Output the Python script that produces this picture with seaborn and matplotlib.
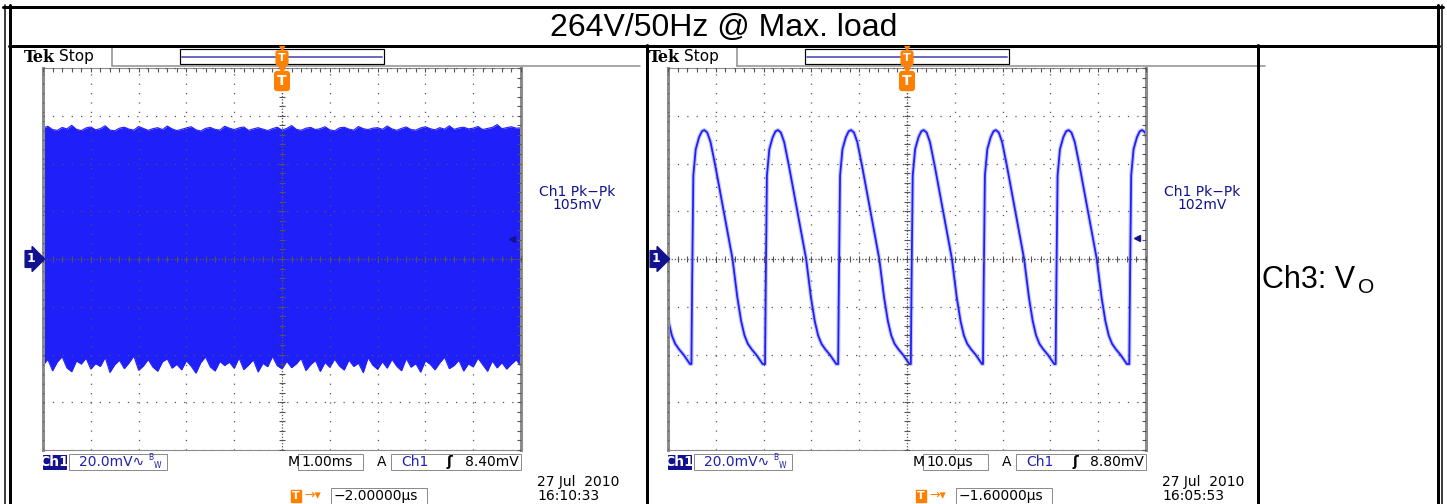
import numpy as np
import matplotlib
matplotlib.use("Agg")
import matplotlib.pyplot as plt
from matplotlib.lines import Line2D
from matplotlib.patches import Rectangle
from matplotlib.ticker import MultipleLocator
import seaborn as sns

W, H = 1447, 504

title = "264V/50Hz @ Max. load"
side_label = "Ch3: V"
side_sub = "O"

# left capture: 20 mV/div, 1 ms/div -> ripple band envelope read every 0.1 ms (mV)
left_t = np.round(np.arange(0, 10.01, 0.1), 2)
left_top = [54.8, 55.6, 54.2, 53.9, 55.1, 54.5, 56.0, 54.3, 53.8, 54.9,
            55.3, 54.1, 54.6, 55.8, 54.0, 53.7, 54.8, 55.2, 54.4, 54.0,
            55.5, 54.7, 53.9, 54.6, 55.0, 54.2, 55.7, 54.5, 53.8, 54.3,
            54.9, 55.4, 54.1, 53.6, 54.7, 55.1, 54.3, 54.0, 55.6, 54.8,
            54.2, 54.9, 55.3, 53.9, 54.5, 55.0, 54.4, 53.8, 54.6, 55.2,
            54.0, 54.7, 55.9, 54.3, 53.9, 54.8, 55.1, 54.2, 54.6, 55.4,
            54.1, 53.7, 54.9, 55.2, 54.4, 54.0, 55.5, 54.6, 54.2, 54.8,
            55.0, 54.3, 55.7, 54.5, 53.9, 54.7, 55.3, 54.2, 54.0, 54.9,
            55.4, 54.6, 54.1, 55.0, 54.4, 55.8, 54.3, 54.9, 55.2, 54.5,
            54.8, 55.5, 54.2, 54.7, 55.1, 56.3, 54.6, 55.0, 55.4, 54.8,
            54.9]
left_bot = [-44.5, -42.0, -46.8, -43.1, -40.9, -45.6, -47.2, -42.7, -44.0, -41.5,
            -46.1, -43.8, -45.0, -41.2, -47.5, -44.3, -42.4, -45.9, -43.5, -40.6,
            -46.6, -44.8, -42.1, -45.3, -47.0, -43.0, -41.8, -45.7, -44.1, -46.4,
            -42.6, -44.9, -47.8, -43.4, -41.0, -45.2, -46.9, -42.9, -44.6, -43.2,
            -45.8, -41.4, -46.3, -44.4, -42.2, -47.3, -43.7, -45.1, -40.8, -44.7,
            -46.0, -42.8, -45.5, -43.9, -41.6, -46.7, -44.2, -42.5, -47.1, -43.3,
            -45.4, -41.9, -44.8, -46.5, -42.3, -45.0, -43.6, -47.6, -41.3, -44.5,
            -46.2, -43.0, -45.7, -42.0, -44.9, -46.8, -41.7, -45.3, -43.8, -47.4,
            -42.6, -44.1, -46.4, -43.5, -41.1, -45.9, -44.6, -42.4, -46.9, -43.9,
            -45.2, -41.5, -44.3, -47.0, -42.7, -45.6, -43.4, -46.1, -44.0, -42.2,
            -45.0]

# right capture: 20 mV/div, 10 us/div -> rising edges (us) and one cycle's shape
right_rises = [-10.3, 4.9, 20.3, 35.6, 50.8, 65.9, 81.1, 96.5]
cycle_dt = [0.0, 0.15, 0.4, 0.9, 1.6, 2.2, 2.7, 3.3, 4.0, 5.0, 6.3, 7.5, 8.6,
            9.6, 10.4, 11.1, 11.8, 12.6, 13.6, 14.9]
cycle_mv = [-44, -10, 35, 46, 51, 53.5, 54, 53, 49, 39, 25, 12, 0,
            -16, -26, -32, -35.5, -37.8, -40.2, -44]

pkpk = ["105mV", "102mV"]
timebase = ["1.00ms", "10.0µs"]
trig_mv = [8.40, 8.80]
delay = ["−2.00000µs", "−1.60000µs"]
dates = [("27 Jul  2010", "16:10:33"), ("27 Jul  2010", "16:05:53")]

BLUE = "#1f1ffa"
NAVY = "#12128e"
ORANGE = "#ff8000"
GRID = "#555555"
FRAME = "#8c8c8c"

sns.set_style("white")
plt.rcParams["font.family"] = ["DejaVu Sans"]
plt.rcParams["text.color"] = "black"

fig = plt.figure(figsize=(W / 100, H / 100), dpi=100)


def fx(x):
    return x / W


def fy(y):
    return 1 - y / H


def px_text(x, y, s, **kw):
    kw.setdefault("va", "center")
    kw.setdefault("ha", "left")
    fig.text(fx(x), fy(y), s, **kw)


def px_line(xs, ys, lw_px, color="black", **kw):
    fig.add_artist(Line2D([fx(x) for x in xs], [fy(y) for y in ys],
                          lw=lw_px * 0.72, color=color,
                          transform=fig.transFigure, **kw))


def px_rect(x0, y0, x1, y1, fc="white", ec=FRAME, lw_px=1.0):
    fig.add_artist(Rectangle((fx(x0), fy(y1)), (x1 - x0) / W, (y1 - y0) / H,
                             transform=fig.transFigure, fc=fc, ec=ec,
                             lw=lw_px * 0.72))


def trig_marker(x, y, fs):
    px_text(x, y - fs - 1, "▼", ha="center", color=ORANGE, fontsize=fs - 2)
    px_text(x, y, "T", ha="center", color="white", fontsize=fs, weight="bold",
            bbox=dict(boxstyle="round,pad=0.18", fc=ORANGE, ec=ORANGE))


GRID_TOP, GRID_BOT, GRID_W = 68, 450, 478


def scope_axes(gx, xmax, ymax, trig):
    ax = fig.add_axes([fx(gx), fy(GRID_BOT), GRID_W / W, (GRID_BOT - GRID_TOP) / H])
    ax.set_xlim(0, xmax)
    ax.set_ylim(-ymax, ymax)
    ax.xaxis.set_major_locator(MultipleLocator(xmax / 10))
    ax.xaxis.set_minor_locator(MultipleLocator(xmax / 50))
    ax.yaxis.set_major_locator(MultipleLocator(ymax / 4))
    ax.yaxis.set_minor_locator(MultipleLocator(ymax / 20))
    ax.tick_params(which="both", direction="in", top=True, right=True,
                   labelbottom=False, labelleft=False, color=GRID,
                   length=3, width=0.8)
    ax.set_axisbelow(False)
    ax.grid(True, which="major", color=GRID, ls=(0, (1, 6.5)), lw=0.9)
    ax.axhline(0, color=GRID, lw=0.9, ls=(0, (1, 1.5)), zorder=3)
    ax.axvline(xmax / 2, color=GRID, lw=0.9, ls=(0, (1, 1.5)), zorder=3)
    mx = np.arange(0, xmax + 1e-9, xmax / 50)
    my = np.arange(-ymax, ymax + 1e-9, ymax / 20)
    ax.plot(mx, np.zeros_like(mx), ls="none", marker="|", ms=5, mew=0.8,
            color=GRID, zorder=3)
    ax.plot(np.full_like(my, xmax / 2), my, ls="none", marker="_", ms=5,
            mew=0.8, color=GRID, zorder=3)
    for side in ["left", "right"]:
        ax.spines[side].set_color(FRAME)
        ax.spines[side].set_linewidth(2.2)
    for side in ["top", "bottom"]:
        ax.spines[side].set_color(FRAME)
        ax.spines[side].set_linewidth(0.8)
    ax.plot([xmax * 0.982], [trig], marker="<", ms=5, color=NAVY, zorder=4)
    return ax


def scope_decor(i, gx):
    d = gx - 43
    # header
    px_text(24 + d, 57, "Tek", family="DejaVu Serif", weight="bold", fontsize=11.5)
    px_text(59 + d, 56, "Stop", fontsize=11)
    px_line([112 + d, 112 + d], [48, 66], 1.5, FRAME)
    px_line([112 + d, 640 + d], [65.5, 65.5], 1.5, FRAME)
    px_rect(180 + d, 49, 384 + d, 64, ec="black", lw_px=1.2)
    px_line([182 + d, 382 + d], [57, 57], 2, "#6c6cc0")
    trig_marker(gx + GRID_W / 2, 58, 8)
    trig_marker(gx + GRID_W / 2, 81, 10)
    # channel marker
    px_text(27 + d, 259, "1", color="white", fontsize=9, weight="bold",
            bbox=dict(boxstyle="rarrow,pad=0.15", fc=NAVY, ec=NAVY))
    # measurement readout
    px_text(gx + GRID_W + 56, 192, "Ch1 Pk−Pk", ha="center", color=NAVY, fontsize=10)
    px_text(gx + GRID_W + 56, 205, pkpk[i], ha="center", color=NAVY, fontsize=10)
    # status bar
    px_rect(43 + d, 455, 66 + d, 469, fc=NAVY, ec=NAVY)
    px_text(54.5 + d, 462, "Ch1", ha="center", color="white", fontsize=10, weight="bold")
    px_rect(69 + d, 454, 167 + d, 470)
    px_text(79 + d, 462, "20.0mV∿", color="#2020b0", fontsize=10)
    px_text(148 + d, 458, "B", color="#2020b0", fontsize=5.5)
    px_text(154 + d, 465, "W", color="#2020b0", fontsize=5.5)
    px_text(288 + d, 462, "M", fontsize=10)
    px_rect(298 + d, 454, 363 + d, 470)
    px_text(301 + d, 462, timebase[i], fontsize=10)
    px_text(377 + d, 462, "A", fontsize=10)
    px_rect(391 + d, 454, 521 + d, 470)
    px_text(401 + d, 462, "Ch1", color="#2020b0", fontsize=10)
    px_text(447 + d, 462, "ʃ", fontsize=10, weight="bold")
    px_text(465 + d, 462, f"{trig_mv[i]:.2f}mV", fontsize=10)
    px_text(537 + d, 482, dates[i][0], fontsize=10)
    px_text(537 + d, 496, dates[i][1], fontsize=10)
    px_text(296 + d, 496, "T", ha="center", color="white", fontsize=8, weight="bold",
            bbox=dict(boxstyle="square,pad=0.12", fc=ORANGE, ec=ORANGE))
    px_text(304 + d, 496, "→▾", color=ORANGE, fontsize=9)
    px_rect(331 + d, 488, 427 + d, 505)
    px_text(334 + d, 496, delay[i], fontsize=10)


# left scope: wideband ripple
ax1 = scope_axes(43, 10.0, 80, trig_mv[0])
ax1.fill_between(left_t, left_bot, left_top, color=BLUE, lw=0, zorder=1)
sns.lineplot(x=left_t, y=left_top, ax=ax1, color=BLUE, lw=0.8, estimator=None, zorder=1)
sns.lineplot(x=left_t, y=left_bot, ax=ax1, color=BLUE, lw=0.8, estimator=None, zorder=1)
scope_decor(0, 43)

# right scope: zoomed ripple waveform
wave_t, wave_v = [], []
for r in right_rises:
    wave_t += [r + dt for dt in cycle_dt]
    wave_v += cycle_mv
ax2 = scope_axes(668, 100.0, 80, trig_mv[1])
sns.lineplot(x=wave_t, y=wave_v, ax=ax2, color=BLUE, lw=3, alpha=0.25,
             estimator=None, sort=False, zorder=2)
sns.lineplot(x=wave_t, y=wave_v, ax=ax2, color=BLUE, lw=1.3,
             estimator=None, sort=False, zorder=2)
ax2.set_xlim(0, 100)
scope_decor(1, 668)
for ax in (ax1, ax2):
    ax.set_xlabel("")
    ax.set_ylabel("")

# table borders
px_line([3, 1443], [6.5, 6.5], 3)
px_line([4.5, 4.5], [5, 504], 1.5)
px_line([9.5, 9.5], [5, 504], 3)
px_line([1438, 1438], [5, 504], 3)
px_line([1442, 1442], [5, 504], 1.5)
px_line([9, 1439], [45.5, 45.5], 3)
px_line([646.5, 646.5], [45, 504], 3)
px_line([1257.5, 1257.5], [45, 504], 3)

px_text(724, 28, title, ha="center", family="Liberation Sans", fontsize=23)
px_text(1262, 288, side_label, va="baseline", family="Liberation Sans", fontsize=22)
px_text(1358, 293, side_sub, va="baseline", family="Liberation Sans", fontsize=15)

fig.savefig("out.png", dpi=100)
